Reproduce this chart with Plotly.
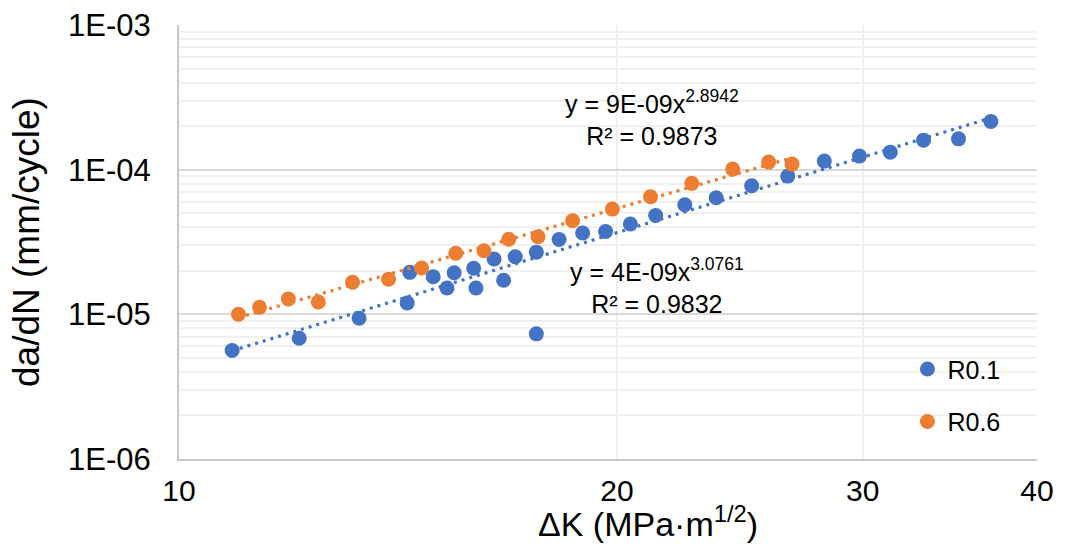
import numpy as np
import plotly.graph_objects as go

# ---- data ----
dk_r01 = [10.60, 11.84, 13.07, 14.15, 14.21, 14.77, 15.11, 15.29, 15.79, 15.85,
          16.33, 16.59, 16.91, 17.51, 17.51, 18.18, 18.90, 19.63, 20.45, 21.32,
          22.37, 23.56, 24.98, 26.51, 28.16, 29.84, 31.40, 33.17, 35.14, 37.07]
dadn_r01 = [5.62e-6, 6.84e-6, 9.40e-6, 1.20e-5, 1.95e-5, 1.82e-5, 1.52e-5, 1.94e-5, 2.08e-5, 1.52e-5,
            2.41e-5, 1.72e-5, 2.50e-5, 7.33e-6, 2.69e-5, 3.29e-5, 3.65e-5, 3.74e-5, 4.21e-5, 4.82e-5,
            5.72e-5, 6.39e-5, 7.74e-5, 9.03e-5, 1.146e-4, 1.241e-4, 1.322e-4, 1.600e-4, 1.633e-4, 2.154e-4]

dk_r06 = [10.71, 11.09, 11.63, 12.22, 12.93, 13.72, 14.49, 15.33, 16.06, 16.73,
          17.56, 18.59, 19.85, 21.14, 22.63, 24.21, 25.69, 26.70]
dadn_r06 = [1.002e-5, 1.120e-5, 1.278e-5, 1.218e-5, 1.666e-5, 1.748e-5, 2.092e-5, 2.642e-5, 2.754e-5, 3.302e-5,
            3.441e-5, 4.437e-5, 5.34e-5, 6.50e-5, 8.04e-5, 1.009e-4, 1.128e-4, 1.093e-4]

series_names = ["R0.1", "R0.6"]
eq_r01 = ["y = 4E-09x<sup>3.0761</sup>", "R² = 0.9832"]
eq_r06 = ["y = 9E-09x<sup>2.8942</sup>", "R² = 0.9873"]
x_title = "ΔK (MPa·m<sup>1/2</sup>)"
y_title = "da/dN (mm/cycle)"

x_ticks = [9.71, 20, 30, 40]
x_ticktext = ["10", "20", "30", "40"]
y_ticks = [1e-6, 1e-5, 1e-4, 1e-3]
y_ticktext = ["1E-06", "1E-05", "1E-04", "1E-03"]
y_minor = [m * 10.0 ** e for e in (-6, -5, -4) for m in range(2, 10)]

BLUE = "#4472C4"
ORANGE = "#ED7D31"
FONT = "Liberation Sans, Arial, sans-serif"


def power_fit(x, y):
    lx, ly = np.log(np.asarray(x)), np.log(np.asarray(y))
    b, a = np.polyfit(lx, ly, 1)
    xs = np.geomspace(min(x), max(x), 60)
    return xs, np.exp(a) * xs ** b


fig = go.Figure()
fig.add_trace(go.Scatter(x=dk_r01, y=dadn_r01, mode="markers", name=series_names[0],
                         legendgroup="a",
                         marker=dict(color=BLUE, size=15, line=dict(width=0))))
fig.add_trace(go.Scatter(x=dk_r06, y=dadn_r06, mode="markers", name=series_names[1],
                         legendgroup="b",
                         marker=dict(color=ORANGE, size=15, line=dict(width=0))))

for xs_, ys_, c in ((dk_r01, dadn_r01, BLUE), (dk_r06, dadn_r06, ORANGE)):
    fx, fy = power_fit(xs_, ys_)
    fig.add_trace(go.Scatter(x=fx, y=fy, mode="lines", showlegend=False, hoverinfo="skip",
                             line=dict(color=c, width=3.2, dash="3px,5px")))

fig.update_layout(
    width=1073, height=545,
    margin=dict(l=179, r=36, t=25, b=86),
    paper_bgcolor="white", plot_bgcolor="white",
    font=dict(family=FONT, color="#000000"),
    showlegend=True,
    legend=dict(x=0.849, y=0.147, xanchor="left", yanchor="middle",
                font=dict(size=25, family=FONT), bgcolor="rgba(0,0,0,0)",
                tracegroupgap=17, itemsizing="trace", itemwidth=30),
)

fig.update_xaxes(type="log", range=[np.log10(9.71), np.log10(40.0)], automargin=False,
                 tickmode="array", tickvals=x_ticks, ticktext=x_ticktext,
                 tickfont=dict(size=30), ticks="", ticklabelstandoff=4,
                 showgrid=True, gridcolor="#EFEFEF", gridwidth=2,
                 showline=True, linecolor="#C8C8C8", linewidth=2, zeroline=False)
fig.update_yaxes(type="log", range=[-6, -3], automargin=False,
                 tickmode="array", tickvals=y_ticks, ticktext=y_ticktext,
                 tickfont=dict(size=31), ticks="", ticklabelstandoff=20,
                 showgrid=True, gridcolor="#D9D9D9", gridwidth=2,
                 minor=dict(tickvals=y_minor, showgrid=True, gridcolor="#F0F0F0", gridwidth=2, ticks=""),
                 showline=True, linecolor="#C8C8C8", linewidth=2, zeroline=False)

fig.add_annotation(xref="paper", yref="paper", x=0.5507, y=0.7853, xanchor="center", yanchor="middle",
                   text="<br>".join(eq_r06), showarrow=False, align="center",
                   font=dict(size=25, family=FONT, color="#000000"))
fig.add_annotation(xref="paper", yref="paper", x=0.5571, y=0.3988, xanchor="center", yanchor="middle",
                   text="<br>".join(eq_r01), showarrow=False, align="center",
                   font=dict(size=25, family=FONT, color="#000000"))
fig.add_annotation(xref="paper", yref="paper", x=0.5466, y=-0.1435, xanchor="center", yanchor="middle",
                   text=x_title, showarrow=False,
                   font=dict(size=34, family=FONT, color="#000000"))
fig.add_annotation(xref="paper", yref="paper", x=-0.1783, y=0.5, xanchor="center", yanchor="middle",
                   text=y_title, showarrow=False, textangle=-90,
                   font=dict(size=37, family=FONT, color="#000000"))

fig.write_html("out.html", config={"displayModeBar": False},
               post_script="document.body.style.margin='0';")
